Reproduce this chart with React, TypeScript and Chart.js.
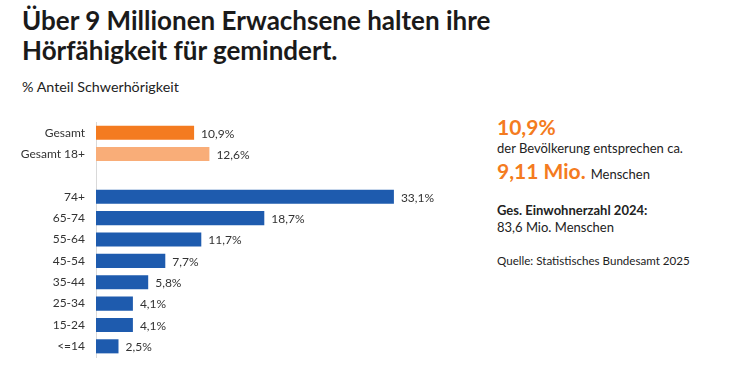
import React, { useEffect, useRef } from "react";
import { Chart, registerables } from "chart.js";

Chart.register(...registerables);

const categories = ["Gesamt", "Gesamt 18+", "", "74+", "65-74", "55-64", "45-54", "35-44", "25-34", "15-24", "<=14"];
const values: (number | null)[] = [10.9, 12.6, null, 33.1, 18.7, 11.7, 7.7, 5.8, 4.1, 4.1, 2.5];
const barColors = ["#F47B20", "#F9AD78", "#ffffff", "#1E5BAE", "#1E5BAE", "#1E5BAE", "#1E5BAE", "#1E5BAE", "#1E5BAE", "#1E5BAE", "#1E5BAE"];

const FONT = "Lato, 'Open Sans', sans-serif";

const valueLabels = {
  id: "valueLabels",
  afterDatasetsDraw(chart: any) {
    const ctx = chart.ctx;
    const meta = chart.getDatasetMeta(0);
    ctx.save();
    ctx.font = `12px ${FONT}`;
    ctx.fillStyle = "#333333";
    ctx.textAlign = "left";
    ctx.textBaseline = "middle";
    meta.data.forEach((el: any, i: number) => {
      const v = values[i];
      if (v == null) return;
      ctx.fillText(v.toFixed(1).replace(".", ",") + "%", el.x + 7, el.y + 1);
    });
    ctx.restore();
  },
};

function BarChart() {
  const ref = useRef<HTMLCanvasElement>(null);
  useEffect(() => {
    if (!ref.current) return;
    const chart = new Chart(ref.current, {
      type: "bar",
      data: {
        labels: categories,
        datasets: [
          {
            data: values,
            backgroundColor: barColors,
            barPercentage: 0.66,
            categoryPercentage: 1,
          },
        ],
      },
      options: {
        indexAxis: "y",
        animation: false,
        responsive: false,
        maintainAspectRatio: false,
        layout: { padding: { top: 7, bottom: 8, right: 4, left: 0 } },
        plugins: { legend: { display: false }, tooltip: { enabled: false } },
        scales: {
          x: { display: false, min: 0, max: 40 },
          y: {
            grid: { display: false, drawTicks: false },
            border: { display: true, color: "#d9d9d9", width: 1 },
            ticks: { color: "#333333", font: { family: FONT, size: 12 }, padding: 11 },
            afterFit(scale: any) {
              scale.width = 96;
              scale.paddingTop = 0;
              scale.paddingBottom = 0;
            },
          },
        },
      },
      plugins: [valueLabels],
    });
    return () => chart.destroy();
  }, []);
  return <canvas ref={ref} width={460} height={250} style={{ position: "absolute", left: 0, top: 115, width: 460, height: 250 }} />;
}

export default function App() {
  const base: React.CSSProperties = { position: "absolute", fontFamily: FONT, color: "#222", whiteSpace: "nowrap", margin: 0 };
  return (
    <div style={{ position: "fixed", left: 0, top: 0, width: 746, height: 374, background: "#fff", overflow: "hidden" }}>
      <div style={{ ...base, left: 22, top: 5, fontSize: 26, fontWeight: 700, lineHeight: "30px", color: "#1a1a1a" }}>
        Über 9 Millionen Erwachsene halten ihre
        <br />
        Hörfähigkeit für gemindert.
      </div>
      <div style={{ ...base, left: 22, top: 78, fontSize: 14.3 }}>% Anteil Schwerhörigkeit</div>
      <BarChart />
      <div style={{ ...base, left: 497, top: 114, fontSize: 21, fontWeight: 700, color: "#F47B20" }}>10,9%</div>
      <div style={{ ...base, left: 497, top: 140, fontSize: 13 }}>der Bevölkerung entsprechen ca.</div>
      <div style={{ ...base, left: 497, top: 158, fontSize: 21, fontWeight: 700, color: "#F47B20" }}>
        9,11 Mio. <span style={{ fontSize: 13, fontWeight: 400, color: "#222" }}>Menschen</span>
      </div>
      <div style={{ ...base, left: 497, top: 202, fontSize: 13, fontWeight: 700 }}>Ges. Einwohnerzahl 2024:</div>
      <div style={{ ...base, left: 497, top: 219, fontSize: 13 }}>83,6 Mio. Menschen</div>
      <div style={{ ...base, left: 497, top: 254, fontSize: 11.6 }}>Quelle: Statistisches Bundesamt 2025</div>
    </div>
  );
}
